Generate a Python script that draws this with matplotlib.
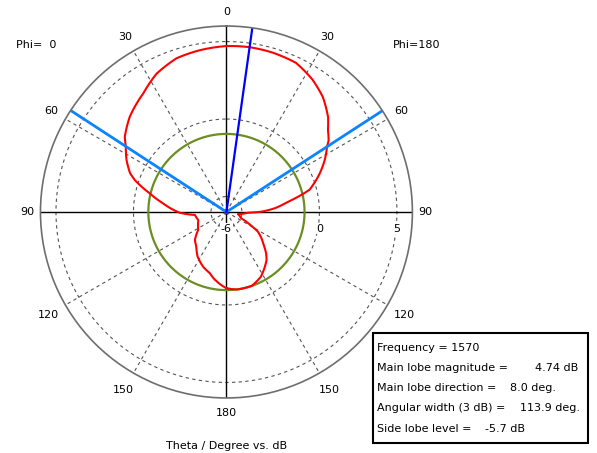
import matplotlib.pyplot as plt
import matplotlib.patches as patches
import numpy as np

# Farfield cut, Theta in degrees (right half = Phi 180, left half = Phi 0), gain in dB
theta_deg = [-180, -175, -169, -165, -157, -147, -139, -131.6, -122.5, -115, -106, -95.4, -91,
             -82.2, -76.3, -70.8, -68, -62.5, -57, -53.5, -45.4, -35, -26.8, -18, -9.4,
             0, 8, 16, 25, 33, 40, 47, 51, 55, 57, 62, 67.5, 75, 80.5, 85.6, 89.5, 92,
             100, 113, 118, 122, 127, 131, 136, 140, 144, 152, 161, 172, 180]
gain_db = [-1.08, -1.32, -1.64, -1.90, -2.16, -2.58, -3.04, -3.28, -3.84, -3.98, -4.11, -3.96, -3.0,
           -1.87, -0.90, 0.26, 0.71, 1.27, 1.74, 2.16, 2.76, 3.35, 4.00, 4.43, 4.58,
           4.71, 4.74, 4.71, 4.62, 4.19, 3.68, 2.97, 2.43, 2.05, 1.74, 1.19, 0.52, -0.45, -1.97, -2.88, -3.75, -4.61,
           -5.25, -4.97, -4.32, -3.61, -3.16, -2.84, -2.32, -1.97, -1.74, -1.27, -0.96, -0.95, -1.08]

frequency = 1570
main_lobe_db = 4.74
main_dir = 8.0
beam_edges = [-56.9, 57.0]
beam_width = 113.9
side_lobe_rel = -5.7

r_min, r_max = -6, 6
grid_db = [-5, 0, 5]
spoke_deg = [30, 60, 120, 150]
angle_labels = [0, 30, 60, 90, 120, 150, 180]
label_r = {0: 6.9, 30: 7.03, 60: 7.03, 90: 6.85, 120: 7.29, 150: 7.26, 180: 6.97}

plt.rcParams['font.family'] = 'DejaVu Sans'
plt.rcParams['font.size'] = 8

fig = plt.figure(figsize=(5.97, 4.53), dpi=100)
ax = fig.add_axes([0.0678, 0.1214, 0.623, 0.8212], projection='polar')
ax.set_theta_zero_location('N')
ax.set_theta_direction(-1)
ax.set_ylim(r_min, r_max)
ax.set_xticks([])
ax.set_yticks([])
ax.grid(False)
ax.spines['polar'].set_color('#6e6e6e')
ax.spines['polar'].set_linewidth(1.2)

# dashed grid: rings and spokes
ring = np.linspace(0, 2 * np.pi, 361)
for g in grid_db:
    ax.plot(ring, np.full_like(ring, g), color='#555555', lw=0.8, ls=(0, (3, 3)))
for a in spoke_deg:
    for s in (1, -1):
        ax.plot([np.deg2rad(s * a)] * 2, [r_min, r_max], color='#555555', lw=0.8, ls=(0, (3, 3)))

# solid axes through the centre
for a in (0, 180, 90, -90):
    ax.plot([np.deg2rad(a)] * 2, [r_min, r_max], color='black', lw=1.0)

# side lobe level circle
side_abs = main_lobe_db + side_lobe_rel
ax.plot(ring, np.full_like(ring, side_abs), color='#6b8e23', lw=1.6)

# pattern, drawn as polar spirals between samples instead of straight chords
pattern, = ax.plot(np.deg2rad(theta_deg), gain_db, color='#ff0000', lw=1.5)
pattern.get_path()._interpolation_steps = 12

# 3 dB beam edges and main lobe direction
for e in beam_edges:
    ax.plot([np.deg2rad(e)] * 2, [r_min, r_max], color='#0a84ff', lw=2.0)
ax.plot([np.deg2rad(main_dir)] * 2, [r_min, r_max], color='#0000ff', lw=1.6)

# angle labels on both halves
for a in angle_labels:
    sides = (1,) if a in (0, 180) else (1, -1)
    for s in sides:
        ax.text(np.deg2rad(s * a), label_r[a], str(a), ha='center', va='center', clip_on=False)

# dB labels under the horizontal axis
for v in (-6, 0, 5):
    ax.annotate(str(v), xy=(np.pi / 2, v), xytext=(0, -12), textcoords='offset points',
                ha='center', va='center',
                bbox=dict(fc='white', ec='none', pad=0.5))

W, H = 597, 453
fig.text(15.7 / W, 1 - 45 / H, 'Phi=  0', ha='left', va='center')
fig.text(393 / W, 1 - 45 / H, 'Phi=180', ha='left', va='center')
fig.text(226.5 / W, 1 - 446 / H, 'Theta / Degree vs. dB', ha='center', va='center')

# results box
box = patches.Rectangle((372.7 / W, 1 - 442.7 / H), (588.3 - 372.7) / W, (442.7 - 333.3) / H,
                        transform=fig.transFigure, fc='white', ec='black', lw=1.5)
fig.patches.append(box)
rows = [
    ('Frequency = %d' % frequency, None, None),
    ('Main lobe magnitude =', '%.2f dB' % main_lobe_db, 535),
    ('Main lobe direction =', '%.1f deg.' % main_dir, 510),
    ('Angular width (3 dB) =', '%.1f deg.' % beam_width, 520),
    ('Side lobe level =', '%.1f dB' % side_lobe_rel, 485),
]
row_y = [347.7, 367.7, 387.7, 407.7, 428.5]
for (lab, val, vx), y in zip(rows, row_y):
    fig.text(377.3 / W, 1 - y / H, lab, ha='left', va='center')
    if val is not None:
        fig.text(vx / W, 1 - y / H, val, ha='left', va='center')

fig.savefig('out.png', dpi=100)
